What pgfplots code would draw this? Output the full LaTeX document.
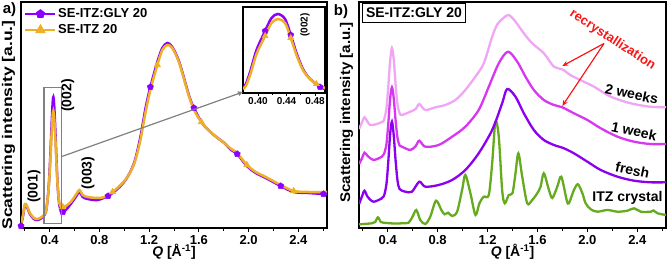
\documentclass[border=0pt]{standalone}
\usepackage{pgfplots}
\pgfplotsset{compat=1.18}
\usepackage{fontspec}
\setmainfont{Liberation Sans}
\usetikzlibrary{arrows.meta}

\definecolor{cpurple}{RGB}{140,0,255}
\definecolor{corange}{RGB}{238,176,40}
\definecolor{cweektwo}{RGB}{240,165,245}
\definecolor{cweekone}{RGB}{215,55,240}
\definecolor{cfresh}{RGB}{140,0,240}
\definecolor{cgreen}{RGB}{102,170,30}
\definecolor{cred}{RGB}{250,20,20}
\definecolor{cgray}{RGB}{128,128,128}

\newcommand{\fs}[1]{\fontsize{#1}{#1}\selectfont\bfseries}

\pgfplotsset{
  panel/.style={
    scale only axis, width=306pt, height=226pt,
    xmin=0.17, xmax=2.63, ymin=0, ymax=226,
    axis line style={line width=1.3pt},
    xtick={0.4,0.8,1.2,1.6,2.0,2.4},
    minor xtick={0.2,0.6,1.0,1.4,1.8,2.2,2.6},
    ytick=\empty,
    xtick pos=bottom, tick align=outside,
    major tick length=4pt, minor tick length=3pt,
    tick style={line width=1pt, black},
    /pgf/number format/assume math mode=true,
    xticklabel style={font=\fs{13}, /pgf/number format/.cd, fixed, fixed zerofill, precision=1},
    xlabel={\textit{Q} [Å\textsuperscript{-1}]},
    xlabel style={font=\fs{14}, at={(axis description cs:0.5,0)}, anchor=center, yshift=-24pt},
    ylabel style={font=\fs{14}, anchor=center},
  },
  curve/.style={line width=2.5pt, smooth},
  bcurve/.style={line width=2.3pt, smooth},
}

\begin{document}
\begin{tikzpicture}
\path[use as bounding box] (0,0) rectangle (669pt,262pt);

% ---------------- panel a ----------------
\begin{axis}[panel, at={(21pt,34pt)}, anchor=south west,
  ylabel={\scalebox{1.25}[1]{Scattering intensity [a.u.]}},
  ylabel style={at={(axis description cs:-0.041,0.456)}},
  legend style={at={(axis description cs:0,1)}, anchor=north west, draw=none, fill=none,
    font=\fs{13}, xshift=3pt, yshift=-5pt, row sep=2.5pt, inner sep=0pt,
    nodes={inner sep=1.5pt}},
  legend cell align=left,
  legend image code/.code={\draw[#1, mark repeat=2, mark phase=2] plot coordinates {(0pt,0pt) (15pt,0pt) (30pt,0pt)};}
]
\addlegendimage{cpurple, line width=2.5pt, mark=pentagon*, mark size=3.3pt}
\addlegendentry{SE-ITZ:GLY 20}
\addlegendimage{corange, line width=2.5pt, mark=triangle*, mark size=3.8pt}
\addlegendentry{SE-ITZ 20}

% SE-ITZ:GLY 20
\addplot[curve, cpurple, forget plot] coordinates {
(0.170,2)(0.186,12)(0.202,23)(0.218,21)(0.242,14)(0.274,9)(0.306,8)(0.346,11)
(0.370,16)(0.385,30)(0.395,46)(0.405,70)(0.415,100)(0.424,124)(0.430,131)(0.437,122)
(0.446,98)(0.456,66)(0.466,40)(0.478,23)(0.492,17)(0.506,16)(0.530,18)(0.570,24)
(0.610,31)(0.640,36)(0.666,31)(0.706,29)(0.786,28)(0.870,32)(0.906,35)(0.970,42)
(1.026,51)(1.082,66)(1.130,91)(1.170,119)(1.210,141)(1.266,166)(1.306,180)(1.346,185)
(1.386,181)(1.442,166)(1.522,132)(1.560,120)(1.620,106)(1.684,97)(1.740,91)(1.804,85)
(1.860,78)(1.908,74)(1.986,62)(2.058,55)(2.138,50)(2.258,42)(2.362,36)(2.482,35)
(2.602,34)(2.630,34)};
\addplot[only marks, cpurple, mark=pentagon*, mark size=3.3pt, forget plot] coordinates {
(0.170,2)(0.506,16)(0.870,32)(1.210,141)(1.560,120)(1.908,74)(2.258,42)(2.602,34)};

% SE-ITZ 20
\addplot[curve, corange, forget plot] coordinates {
(0.170,3)(0.186,13)(0.202,24)(0.218,22)(0.242,15)(0.274,10)(0.306,9)(0.346,12)
(0.370,16)(0.385,30)(0.395,44)(0.405,66)(0.415,92)(0.424,112)(0.430,117)(0.437,110)
(0.446,90)(0.456,63)(0.466,40)(0.478,25)(0.492,21)(0.506,21)(0.530,22)(0.570,26)
(0.610,33)(0.640,38)(0.666,33)(0.706,31)(0.786,30)(0.842,31)(0.906,36)(0.970,43)
(1.026,51)(1.082,65)(1.130,88)(1.170,115)(1.210,138)(1.266,163)(1.306,178)(1.346,183)
(1.386,180)(1.442,165)(1.522,131)(1.570,116)(1.620,106)(1.684,97)(1.740,91)(1.804,85)
(1.860,79)(1.908,75)(1.986,63)(2.058,56)(2.138,51)(2.258,43)(2.362,37)(2.482,36)
(2.602,36)(2.630,36)};
\addplot[only marks, corange, mark=triangle*, mark size=3.8pt, forget plot] coordinates {
(0.506,21)(0.906,36)(1.266,163)(1.620,106)(1.986,63)(2.362,37)};
\end{axis}

% inset: (002) reflection
\begin{axis}[at={(243pt,169pt)}, anchor=south west, scale only axis,
  width=82pt, height=86pt, xmin=0.379, xmax=0.494, ymin=0, ymax=86,
  axis background/.style={fill=white},
  axis line style={line width=1.3pt}, ytick=\empty,
  xtick={0.40,0.44,0.48}, minor xtick={0.42,0.46},
  xtick pos=bottom, tick align=outside, major tick length=3pt, minor tick length=2pt,
  tick style={line width=0.9pt, black},
  /pgf/number format/assume math mode=true,
  xticklabel style={font=\fs{10}, inner sep=1.5pt, /pgf/number format/.cd, fixed, fixed zerofill, precision=2}]
\addplot[curve, cpurple] coordinates {
(0.379,5)(0.383,9)(0.389,21)(0.398,43)(0.410,62)(0.419,75)(0.428,79)(0.438,74)
(0.446,58)(0.454,40)(0.463,24)(0.473,14)(0.482,9)(0.487,6)(0.494,4)};
\addplot[only marks, cpurple, mark=pentagon*, mark size=3.2pt] coordinates {
(0.410,62)(0.446,58)(0.487,6)};
\addplot[curve, corange] coordinates {
(0.379,4)(0.383,7)(0.389,18)(0.398,39)(0.410,57)(0.419,70)(0.428,74)(0.438,70)
(0.446,55)(0.454,38)(0.463,23)(0.473,14)(0.482,9)(0.494,5)};
\addplot[only marks, corange, mark=triangle*, mark size=3.6pt] coordinates {
(0.410,57)(0.446,55)(0.482,9)};
\end{axis}

% zoom box and pointer
\draw[cgray, line width=1.2pt] (44pt,38.7pt) rectangle (61.3pt,174.7pt);
\draw[cgray, line width=1.2pt, -{Triangle[length=5pt,width=4.5pt]}] (61.3pt,105.3pt) -- (243pt,170pt);
\node[rotate=90, font=\fs{14}] at (34pt,75.5pt) {(001)};
\node[rotate=90, font=\fs{14}] at (67.7pt,166.5pt) {(002)};
\node[rotate=90, font=\fs{14}] at (88pt,89pt) {(003)};
\node[rotate=90, font=\fs{10}] at (305pt,237pt) {(002)};
\node[font=\fs{15}] at (9.5pt,252pt) {a)};

% ---------------- panel b ----------------
\begin{axis}[panel, at={(359pt,34pt)}, anchor=south west, width=307pt,
  ylabel={\scalebox{1.08}[1]{Scattering intensity [a.u.]}},
  ylabel style={at={(axis description cs:-0.041,0.511)}}]
% ITZ crystal
\addplot[bcurve, cgreen] coordinates {
(0.171,3.7)(0.273,4.7)(0.300,6)(0.321,10.7)(0.345,6)(0.366,5.3)(0.450,4.5)(0.514,4.7)
(0.567,5.3)(0.599,11.3)(0.629,18)(0.661,8)(0.701,4)(0.741,11.3)(0.787,27.3)(0.830,18)
(0.856,13.7)(0.884,15.3)(0.916,12)(0.956,16.3)(0.996,38)(1.022,53)(1.063,34.7)(1.103,13)
(1.135,24.7)(1.169,31.3)(1.210,33)(1.237,64.7)(1.263,106.3)(1.290,91.3)(1.317,38)(1.338,24.7)
(1.370,33)(1.400,35)(1.424,54.7)(1.447,74.7)(1.478,51.3)(1.518,24.7)(1.558,28)(1.598,34.7)
(1.625,41.3)(1.651,54.7)(1.692,38)(1.719,30)(1.759,41.3)(1.791,51.3)(1.834,28)(1.852,24.7)
(1.892,38)(1.924,43.7)(1.960,34.7)(1.986,24.7)(2.027,18.7)(2.080,16.3)(2.161,18)(2.241,16.3)
(2.321,17.3)(2.374,19.7)(2.428,16.3)(2.508,16.3)(2.530,17.5)(2.562,14.7)(2.630,13)};
% fresh
\addplot[bcurve, cfresh] coordinates {
(0.171,24)(0.195,32)(0.214,37.3)(0.240,31)(0.286,26.3)(0.353,29.7)(0.370,32)(0.390,44)
(0.405,67)(0.420,94.5)(0.434,106.3)(0.448,93)(0.463,68)(0.478,48)(0.495,39)(0.541,36.3)
(0.594,36.3)(0.653,46.3)(0.701,41.3)(0.808,43)(0.916,48)(1.022,58)(1.129,74.7)(1.237,98)
(1.317,124.7)(1.357,139)(1.424,131.3)(1.491,114.7)(1.571,98)(1.651,88)(1.732,83)(1.812,79.7)
(1.892,74.7)(2.000,66.3)(2.107,58)(2.241,51.3)(2.374,47.3)(2.505,45.7)(2.630,45.7)};
% 1 week
\addplot[bcurve, cweekone] coordinates {
(0.171,64)(0.195,70)(0.214,75.3)(0.240,72)(0.286,68)(0.353,71.3)(0.370,74)(0.390,84)
(0.405,105)(0.420,130)(0.434,140.7)(0.448,130)(0.463,108)(0.478,90.5)(0.495,82.5)(0.514,81.3)
(0.581,78)(0.625,82)(0.653,87.3)(0.701,81.3)(0.808,83)(0.916,91.3)(1.022,101.3)(1.129,118)
(1.210,141.3)(1.290,164.7)(1.364,176.3)(1.438,166.3)(1.504,151.3)(1.571,138)(1.651,128)(1.732,123)
(1.799,120.7)(1.892,114.7)(2.000,108)(2.107,99.7)(2.241,91.3)(2.374,86.3)(2.505,84)(2.630,84)};
% 2 weeks
\addplot[bcurve, cweektwo] coordinates {
(0.171,99)(0.195,106)(0.214,110.7)(0.235,107)(0.259,103)(0.300,103.5)(0.353,106)(0.370,108)
(0.390,120)(0.405,142)(0.420,168)(0.434,180)(0.448,169)(0.463,144)(0.478,124)(0.495,115)
(0.514,113)(0.581,116.3)(0.625,119)(0.653,124)(0.701,118)(0.782,120.7)(0.862,123)(0.942,128)
(1.022,138)(1.102,151.3)(1.170,164.7)(1.237,191.3)(1.280,204)(1.328,210)(1.370,213)(1.424,206.3)
(1.491,194.7)(1.558,184.7)(1.651,174.7)(1.732,161.3)(1.799,158.7)(1.863,153)(1.943,148)(2.053,141.3)
(2.187,131.3)(2.347,124.7)(2.502,121.3)(2.630,120.7)};
\end{axis}

\node[draw, line width=1pt, font=\fs{14}, inner xsep=4pt, minimum height=19.5pt] at (414pt,249pt) {SE-ITZ:GLY 20};
\node[font=\fs{14}, rotate=-12] at (631.7pt,168pt) {2 weeks};
\node[font=\fs{14}, rotate=-12] at (634pt,131pt) {1 week};
\node[font=\fs{14}, rotate=-12] at (632.5pt,92pt) {fresh};
\node[font=\fs{14}] at (627.5pt,63.7pt) {ITZ crystal};
\node[font=\fs{13}, text=cred, rotate=-33] at (612.5pt,222pt) {recrystallization};
\draw[cred, line width=1.2pt, -{Stealth[length=6pt,width=5pt]}] (604pt,218.5pt) -- (562.3pt,196pt);
\draw[cred, line width=1.2pt, -{Stealth[length=6pt,width=5pt]}] (604pt,218.5pt) -- (562.3pt,156pt);
\node[font=\fs{15}] at (341pt,250.5pt) {b)};
\end{tikzpicture}
\end{document}
